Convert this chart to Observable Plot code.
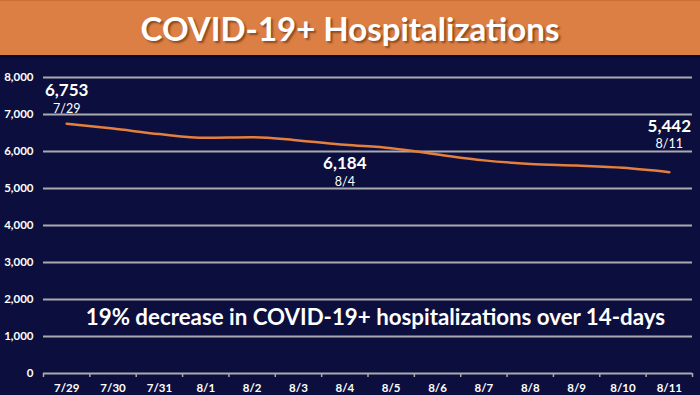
<!DOCTYPE html>
<html>
<head>
<meta charset="utf-8">
<script src="https://cdn.jsdelivr.net/npm/d3@7"></script>
<script src="https://cdn.jsdelivr.net/npm/@observablehq/plot@0.6"></script>
<style>
  html, body { margin: 0; padding: 0; background: #0c0f3d; width: 700px; height: 395px; overflow: hidden; }
  #header {
    background: #dc7f44; border-top: 1px solid #c96f36;
    border-bottom: 3px solid #08092e;
    display: flex; align-items: center; justify-content: center;
    color: #fff; font-family: Lato, sans-serif; font-weight: 700; font-size: 33px;
    text-shadow: 2px 2px 2px rgba(90,40,10,0.6);
    box-sizing: border-box; height: 58px;
  }
  #chart svg { display: block; }
</style>
</head>
<body>
<div id="header">COVID-19+ Hospitalizations</div>
<div id="chart"></div>
<script>
const dates = ["7/29","7/30","7/31","8/1","8/2","8/3","8/4","8/5","8/6","8/7","8/8","8/9","8/10","8/11"];
const hospitalized = [6753, 6620, 6470, 6370, 6385, 6300, 6184, 6090, 5920, 5760, 5665, 5620, 5560, 5442];
const yTicks = [0, 1000, 2000, 3000, 4000, 5000, 6000, 7000, 8000];
const labelledDates = ["7/29", "8/4", "8/11"];
const summaryText = "19% decrease in COVID-19+ hospitalizations over 14-days";

const data = dates.map((d, i) => ({i, date: d, value: hospitalized[i]}));
const labelled = data.filter(d => labelledDates.includes(d.date));
const boundaries = d3.range(dates.length + 1).map(i => i - 0.5);
// label placement relative to the point (pixels)
const placement = {"7/29": {v: -33, d: -15},
                   "8/4": {v: 19, d: 37},
                   "8/11": {v: -46, d: -28}};

const fmt = d3.format(",");
const plot = Plot.plot({
  width: 700,
  height: 337,
  marginTop: 19,
  marginBottom: 22,
  marginLeft: 43,
  marginRight: 8,
  style: {background: "#0c0f3d", color: "#fff", fontFamily: "Lato, sans-serif"},
  x: {type: "linear", domain: [-0.5, dates.length - 0.5], axis: null, label: null},
  y: {domain: [0, 8000], axis: null, label: null},
  marks: [
    Plot.ruleY(yTicks, {stroke: "#a9a9b0", strokeWidth: 2}),
    Plot.axisY(yTicks, {tickSize: 0, tickPadding: 10, fontSize: 11.5, fontWeight: 700, fill: "#fff", tickFormat: fmt, label: null}),
    Plot.axisX(d3.range(dates.length), {tickSize: 0, tickPadding: 10, fontSize: 11.5, fontWeight: 700, fill: "#fff", tickFormat: i => dates[i], label: null}),
    Plot.axisX(boundaries, {tickSize: 4, stroke: "#a9a9b0", strokeWidth: 1.5, tickFormat: () => "", label: null}),
    Plot.lineY(data, {x: "i", y: "value", stroke: "#e5803c", strokeWidth: 2.5, curve: "monotone-x"}),
    ...labelled.map(d => Plot.text([d], {x: "i", y: "value", text: d => fmt(d.value), dy: placement[d.date].v, fill: "#fff", fontSize: 17, fontWeight: 700})),
    ...labelled.map(d => Plot.text([d], {x: "i", y: "value", text: "date", dy: placement[d.date].d, fill: "#fff", fontSize: 12.5})),
    Plot.text([summaryText], {x: 6.66, y: 1500, text: d => d, fill: "#fff", fontSize: 22.3, fontWeight: 700})
  ]
});
document.getElementById("chart").appendChild(plot);
</script>
</body>
</html>
